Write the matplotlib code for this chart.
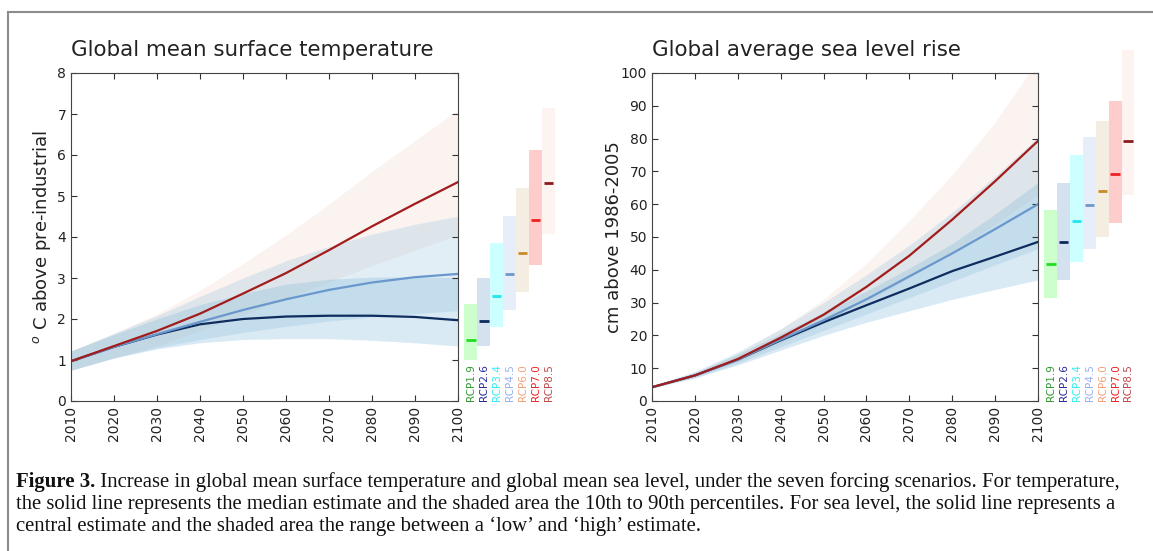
import numpy as np
import matplotlib
matplotlib.use('Agg')
from matplotlib import pyplot as plt
from matplotlib.lines import Line2D

years = [2010, 2020, 2030, 2040, 2050, 2060, 2070, 2080, 2090, 2100]

# temperature, deg C above pre-industrial (median, 10th, 90th percentile)
temp_rcp85_med = [0.97, 1.34, 1.71, 2.13, 2.62, 3.12, 3.68, 4.26, 4.81, 5.34]
temp_rcp45_med = [0.97, 1.32, 1.63, 1.93, 2.22, 2.48, 2.71, 2.89, 3.02, 3.10]
temp_rcp26_med = [0.97, 1.32, 1.62, 1.87, 2.00, 2.06, 2.08, 2.08, 2.05, 1.97]
temp_rcp85_lo = [0.75, 1.05, 1.35, 1.72, 2.10, 2.50, 2.90, 3.30, 3.68, 4.05]
temp_rcp85_hi = [1.22, 1.65, 2.12, 2.70, 3.35, 4.05, 4.80, 5.60, 6.35, 7.10]
temp_rcp45_lo = [0.75, 1.05, 1.30, 1.50, 1.67, 1.82, 1.95, 2.05, 2.13, 2.20]
temp_rcp45_hi = [1.22, 1.65, 2.08, 2.55, 3.00, 3.42, 3.77, 4.07, 4.31, 4.51]
temp_rcp26_lo = [0.75, 1.05, 1.27, 1.42, 1.50, 1.52, 1.52, 1.48, 1.42, 1.34]
temp_rcp26_hi = [1.22, 1.62, 2.00, 2.35, 2.62, 2.85, 2.97, 3.02, 3.03, 3.01]

# sea level, cm above 1986-2005 (central, low, high)
sea_rcp85_med = [4.2, 7.8, 12.8, 19.3, 26.3, 34.8, 44.3, 55.3, 67.0, 79.3]
sea_rcp45_med = [4.2, 7.8, 12.6, 18.7, 24.6, 31.0, 38.0, 45.0, 52.4, 60.0]
sea_rcp26_med = [4.2, 7.8, 12.6, 18.5, 24.0, 29.2, 34.3, 39.6, 44.0, 48.5]
sea_rcp85_lo = [4.0, 7.4, 12.0, 17.5, 23.5, 30.0, 37.5, 45.5, 54.0, 62.9]
sea_rcp85_hi = [4.5, 8.6, 14.5, 22.0, 31.0, 42.0, 55.0, 69.0, 85.0, 104.0]
sea_rcp45_lo = [4.0, 7.2, 11.5, 16.5, 21.5, 26.5, 31.5, 36.5, 41.5, 46.4]
sea_rcp45_hi = [4.6, 9.0, 15.0, 22.0, 30.0, 38.5, 47.5, 57.5, 68.5, 80.5]
sea_rcp26_lo = [4.0, 7.0, 11.0, 15.5, 20.0, 24.0, 27.5, 31.0, 34.0, 36.9]
sea_rcp26_hi = [4.5, 8.7, 14.3, 20.5, 27.0, 33.5, 40.5, 48.0, 57.0, 66.6]

# 2100 ranges for all seven scenarios
scenarios = ['RCP1.9', 'RCP2.6', 'RCP3.4', 'RCP4.5', 'RCP6.0', 'RCP7.0', 'RCP8.5']
temp_bar_lo = [1.00, 1.34, 1.80, 2.22, 2.66, 3.32, 4.07]
temp_bar_med = [1.49, 1.96, 2.55, 3.09, 3.61, 4.41, 5.32]
temp_bar_hi = [2.37, 3.01, 3.86, 4.51, 5.19, 6.12, 7.14]
sea_bar_lo = [31.5, 36.9, 42.5, 46.4, 50.1, 54.4, 62.9]
sea_bar_med = [41.7, 48.4, 54.9, 59.7, 64.1, 69.2, 79.2]
sea_bar_hi = [58.3, 66.6, 74.9, 80.5, 85.5, 91.6, 107.1]

bar_colors = ['#ccffcc', '#d4e2ef', '#ccffff', '#e6eff9', '#f4eee2', '#ffcccc', '#fdf3f0']
med_colors = ['#22dd22', '#0d2a5e', '#22e5ee', '#7096c8', '#c98a2a', '#ee2222', '#8b1a1a']
label_colors = ['#2e9a2e', '#2a2a99', '#33eeee', '#99b0ee', '#f4a07a', '#ee2222', '#c04848']

c_red = '#a31c1c'
c_mid = '#6a98cc'
c_navy = '#0e2d5e'

W, H = 1153, 551
fig = plt.figure(figsize=(W / 100, H / 100), dpi=100)


def draw_panel(ax, med, lo, hi, bar_lo, bar_med, bar_hi, ymax, title, ylabel):
    meds26, meds45, meds85 = med
    ax.fill_between(years, lo[2], hi[2], color='#eab8a8', alpha=0.17, lw=0)
    ax.fill_between(years, lo[1], hi[1], color='#6baed6', alpha=0.2, lw=0)
    ax.fill_between(years, lo[0], hi[0], color='#6baed6', alpha=0.25, lw=0)
    ax.plot(years, meds26, color=c_navy, lw=1.6)
    ax.plot(years, meds45, color=c_mid, lw=1.6)
    ax.plot(years, meds85, color=c_red, lw=1.6)

    x0 = [2101.5 + 3 * i for i in range(len(scenarios))]
    heights = [h - l for h, l in zip(bar_hi, bar_lo)]
    ax.bar(x0, heights, bottom=bar_lo, width=3, align='edge',
           color=bar_colors, lw=0, clip_on=False)
    for i in range(len(scenarios)):
        ax.hlines(bar_med[i], x0[i] + 0.4, x0[i] + 2.6, colors=med_colors[i],
                  lw=2, clip_on=False)
        ax.text(x0[i] + 1.6, 0, scenarios[i], rotation=90, ha='center',
                va='bottom', fontsize=7.5, color=label_colors[i], clip_on=False)

    ax.set_xlim(2010, 2100)
    ax.set_ylim(0, ymax)
    ax.set_xticks(years)
    ax.set_xticklabels([str(y) for y in years], rotation=90)
    ax.tick_params(direction='in', top=True, right=True, length=4,
                   labelsize=10, colors='#333333', labelcolor='#222222')
    for s in ax.spines.values():
        s.set_color('#444444')
    ax.set_title(title, loc='left', fontsize=15.4, color='#222222', pad=12)
    ax.set_ylabel(ylabel, fontsize=13, color='#222222')


ax1 = fig.add_axes([71 / W, 1 - 401 / H, 387 / W, 328 / H])
draw_panel(ax1,
           (temp_rcp26_med, temp_rcp45_med, temp_rcp85_med),
           (temp_rcp26_lo, temp_rcp45_lo, temp_rcp85_lo),
           (temp_rcp26_hi, temp_rcp45_hi, temp_rcp85_hi),
           temp_bar_lo, temp_bar_med, temp_bar_hi, 8,
           'Global mean surface temperature', r'$^o$ C above pre-industrial')
ax1.set_yticks(range(0, 9))
ax1.yaxis.set_label_coords(-18 / 387, 0.5)

ax2 = fig.add_axes([652 / W, 1 - 401 / H, 386 / W, 328 / H])
draw_panel(ax2,
           (sea_rcp26_med, sea_rcp45_med, sea_rcp85_med),
           (sea_rcp26_lo, sea_rcp45_lo, sea_rcp85_lo),
           (sea_rcp26_hi, sea_rcp45_hi, sea_rcp85_hi),
           sea_bar_lo, sea_bar_med, sea_bar_hi, 100,
           'Global average sea level rise', 'cm above 1986-2005')
ax2.set_yticks(range(0, 101, 10))
ax2.yaxis.set_label_coords(-29 / 386, 0.5)

# page frame (left and top edge only are visible)
fx = 8 / W
fy = 1 - 12 / H
fig.add_artist(Line2D([fx, fx], [0, fy], color='#8c8c8c', lw=1.5, transform=fig.transFigure))
fig.add_artist(Line2D([fx, 1], [fy, fy], color='#8c8c8c', lw=1.5, transform=fig.transFigure))

# caption
cap_font = 'Liberation Serif'
cap_size = 14.95
lines = [
    'Increase in global mean surface temperature and global mean sea level, under the seven forcing scenarios. For temperature,',
    'the solid line represents the median estimate and the shaded area the 10th to 90th percentiles. For sea level, the solid line represents a',
    'central estimate and the shaded area the range between a \u2018low\u2019 and \u2018high\u2019 estimate.',
]
bold = fig.text(16 / W, 1 - 487 / H, 'Figure 3.', fontsize=cap_size, family=cap_font,
                weight='bold', va='baseline', color='#111111')
fig.add_artist(plt.Annotation(' ' + lines[0], xy=(1, 0), xycoords=bold, va='bottom',
                              fontsize=cap_size, family=cap_font, color='#111111'))
fig.text(16 / W, 1 - 509 / H, lines[1], fontsize=cap_size, family=cap_font,
         va='baseline', color='#111111')
fig.text(16 / W, 1 - 531 / H, lines[2], fontsize=cap_size, family=cap_font,
         va='baseline', color='#111111')

fig.savefig('out.png', dpi=100)
